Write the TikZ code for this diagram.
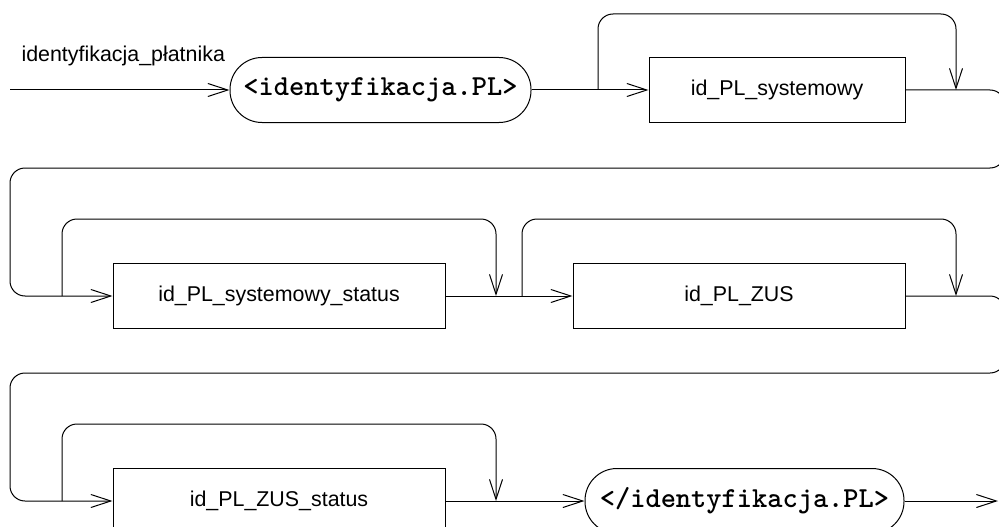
\documentclass[tikz,border=0pt]{standalone}
\usepackage{fontspec}
\setmainfont{Liberation Sans}
\usetikzlibrary{arrows.meta}

\begin{document}
\begin{tikzpicture}[
  x=1pt, y=-1pt,
  rail/.style={line width=1pt},
  into/.style={rail, -{Straight Barb[length=20pt,width=13pt]}},
  loop/.style={into, rounded corners=15pt},
  elem/.style={draw, line width=1pt, minimum height=65pt, inner sep=0pt, font=\fontsize{21.4pt}{26pt}\selectfont},
  term/.style={elem, rounded corners=32pt, font=\fontsize{29pt}{32pt}\selectfont\ttfamily\bfseries},
]

\clip (0,0) rectangle (999,527);

\node [anchor=base west, font=\fontsize{21.4pt}{26pt}\selectfont] (name) at (18,62) {identyfikacja\_płatnika};

% first row
\coordinate (in) at (10,90);
\node [term, minimum width=301pt] (open) at (380.5,90) {<identyfikacja.PL>};
\node [elem, minimum width=256pt] (sys) at (777,90) {id\_PL\_systemowy};
\coordinate (b1) at (598,90);
\coordinate (j1) at (956,90);
\coordinate (r1) at (1005,168);
\coordinate (l1) at (10,296);

\draw [into] (in) -- (open);
\draw [into] (open) -- (sys);
\draw [loop] (b1) -- ++(0,-76) -| (j1);

% second row
\node [elem, minimum width=332pt] (sysst) at (279,296) {id\_PL\_systemowy\_status};
\node [elem, minimum width=332pt] (zus) at (739,296) {id\_PL\_ZUS};
\coordinate (b2) at (62,296);
\coordinate (j2) at (496,296);
\coordinate (b3) at (522,296);
\coordinate (j3) at (956,296);
\coordinate (r2) at (1005,373);
\coordinate (l2) at (10,501);

\draw [loop] (sys) -| (r1) -| (l1) -- (sysst);
\draw [loop] (b2) -- ++(0,-77) -| (j2);
\draw [into] (sysst) -- (zus);
\draw [loop] (b3) -- ++(0,-77) -| (j3);

% third row
\node [elem, minimum width=332pt] (zusst) at (279,501) {id\_PL\_ZUS\_status};
\node [term, minimum width=319pt] (close) at (744.5,501) {</identyfikacja.PL>};
\coordinate (b4) at (62,501);
\coordinate (j4) at (496,501);
\coordinate (out) at (998,501);

\draw [loop] (zus) -| (r2) -| (l2) -- (zusst);
\draw [loop] (b4) -- ++(0,-77) -| (j4);
\draw [into] (zusst) -- (close);
\draw [into] (close) -- (out);

\end{tikzpicture}
\end{document}
